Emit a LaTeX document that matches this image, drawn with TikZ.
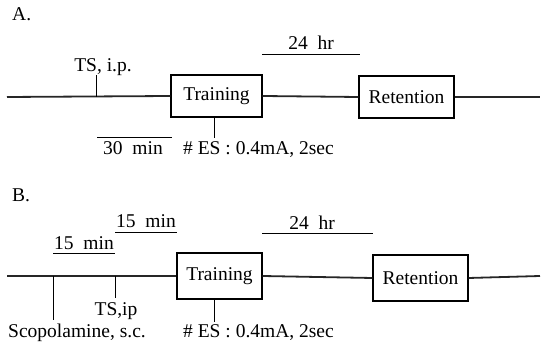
\documentclass[tikz,border=0pt]{standalone}
\usepackage{fontspec}
\setmainfont{Liberation Serif}
\begin{document}
\begin{tikzpicture}[x=1pt,y=-1pt,
  every node/.style={font=\fontsize{19.5}{21}\selectfont, inner sep=0pt},
  stage/.style={draw, line width=1.3pt, minimum height=42pt},
  timeline/.style={line width=1.8pt, black!85},
  tick/.style={line width=0.8pt},
  span/.style={line width=0.8pt},
  lbl/.style={anchor=base}]
\useasboundingbox (0,0) rectangle (542,344);

% ---------- Panel A ----------
\node[lbl, anchor=base west] (la) at (12,21) {A.};
\coordinate (a0) at (7,97);
\coordinate (a1) at (540,97);
\node[stage, minimum width=91pt] (trA) at (216.5,96) {Training};
\node[stage, minimum width=95pt] (reA) at (406.5,97) {Retention};
\draw[timeline] (a0) -- (trA.west);
\draw[timeline] (trA.east) -- (reA.west);
\draw[timeline] (reA.east) -- (a1);

% injection mark
\coordinate (tsA) at (96,97);
\coordinate (tsAtop) at (96,75);
\draw[tick] (tsA) -- (tsAtop);
\node[lbl] (tsAl) at (103,72) {TS, i.p.};

% shock mark
\coordinate (esA) at (214,138);
\draw[tick] (trA.south -| esA) -- (esA);
\node[lbl, anchor=base west] (esAl) at (183,155) {\# ES : 0.4mA, 2sec};

% intervals
\coordinate (m30a) at (97,137);
\coordinate (m30b) at (172,137);
\draw[span] (m30a) -- (m30b);
\node[lbl] (m30l) at (133,155) {30\ \ min};
\coordinate (h24a) at (262,54.5);
\coordinate (h24b) at (360,54.5);
\draw[span] (h24a) -- (h24b);
\node[lbl] (h24l) at (311,50) {24\ \ hr};

% ---------- Panel B ----------
\node[lbl, anchor=base west] (lb) at (12,201.5) {B.};
\coordinate (b0) at (7,276);
\coordinate (b1) at (540,276);
\node[stage, minimum width=85pt, minimum height=46pt] (trB) at (219.5,276) {Training};
\node[stage, minimum width=95pt, minimum height=46pt] (reB) at (420.5,278) {Retention};
\draw[timeline] (b0) -- (trB.west);
\draw[timeline] (trB.east) -- (reB.west);
\draw[timeline] (reB.east) -- (b1);

% injection marks
\coordinate (scB) at (53,276);
\coordinate (scBbot) at (53,320);
\draw[tick] (scB) -- (scBbot);
\node[lbl] (scBl) at (77,338) {Scopolamine, s.c.};
\coordinate (tsB) at (115,276);
\coordinate (tsBbot) at (115,298);
\draw[tick] (tsB) -- (tsBbot);
\node[lbl] (tsBl) at (116,315.5) {TS,ip};

% shock mark
\coordinate (esB) at (214,322);
\draw[tick] (trB.south -| esB) -- (esB);
\node[lbl, anchor=base west] (esBl) at (183,338) {\# ES : 0.4mA, 2sec};

% intervals
\coordinate (m15a) at (53,253);
\coordinate (m15b) at (115,253);
\draw[span] (m15a) -- (m15b);
\node[lbl] (m15l) at (84,250) {15\ \ min};
\coordinate (m15c) at (115,232);
\coordinate (m15d) at (177,232);
\draw[span] (m15c) -- (m15d);
\node[lbl] (m15m) at (146,228) {15\ \ min};
\coordinate (h24c) at (262,233);
\coordinate (h24d) at (373,233);
\draw[span] (h24c) -- (h24d);
\node[lbl] (h24m) at (312,230) {24\ \ hr};
\end{tikzpicture}
\end{document}
